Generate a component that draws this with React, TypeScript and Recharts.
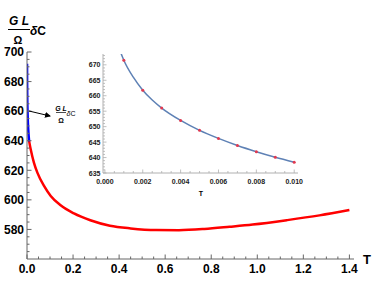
import React from 'react';
import { LineChart, Line, XAxis, YAxis } from 'recharts';

// ---------- data ----------
const blueT = [0.00023, 0.0004, 0.0006, 0.001, 0.002, 0.003, 0.004, 0.006, 0.008, 0.0095];
const blueC = [692, 684.5, 678.7, 671.5, 661.8, 656, 652, 646.2, 641.9, 639.5];

const redT = [0.009, 0.016, 0.03, 0.045, 0.074, 0.103, 0.146, 0.204, 0.275, 0.36, 0.45, 0.56, 0.66, 0.77, 0.88, 0.98, 1.13, 1.27, 1.4];
const redC = [639.9, 634.2, 625.2, 618.4, 609.4, 602.6, 596.3, 590.8, 586.2, 582.5, 580.7, 579.6, 579.5, 580.3, 581.8, 583.3, 586.3, 589.5, 593.1];

const insetLineT = [0.0007, 0.0008, 0.001, 0.0015, 0.002, 0.0025, 0.003, 0.004, 0.005, 0.006, 0.007, 0.008, 0.009, 0.01];
const insetLineC = [676.5, 674.6, 671.5, 666, 661.8, 658.6, 656, 652, 648.8, 646.2, 643.9, 641.9, 640.1, 638.5];

const insetPtT = [0.001, 0.002, 0.003, 0.004, 0.005, 0.006, 0.007, 0.008, 0.009, 0.01];
const insetPtC = [671.5, 661.8, 656, 652, 648.8, 646.2, 643.9, 641.9, 640.1, 638.5];

const mainXMajor = [0, 0.2, 0.4, 0.6, 0.8, 1.0, 1.2, 1.4];
const mainXLabels = ['0.0', '0.2', '0.4', '0.6', '0.8', '1.0', '1.2', '1.4'];
const mainYMajor = [580, 600, 620, 640, 660, 680, 700];
const mainYLabels = ['580', '600', '620', '640', '660', '680', '700'];

const insetXMajor = [0, 0.002, 0.004, 0.006, 0.008, 0.01];
const insetXLabels = ['0.000', '0.002', '0.004', '0.006', '0.008', '0.010'];
const insetYMajor = [635, 640, 645, 650, 655, 660, 665, 670];
const insetYLabels = ['635', '640', '645', '650', '655', '660', '665', '670'];

// ---------- helpers ----------
const range = (a: number, b: number, step: number) => {
  const out: number[] = [];
  const n = Math.round((b - a) / step);
  for (let i = 0; i <= n; i++) out.push(+(a + i * step).toFixed(6));
  return out;
};
const findIdx = (arr: number[], v: number) => arr.findIndex((m) => Math.abs(m - v) < 1e-7);

const mainXTicks = range(0, 1.4, 0.05);
const mainYTicks = range(565, 700, 5);
const insetXTicks = range(0, 0.01, 0.0005);
const insetYTicks = range(635, 673, 1);

const blueData = blueT.map((t, i) => ({ t, c: blueC[i] }));
const redData = redT.map((t, i) => ({ t, c: redC[i] }));
const insetLine = insetLineT.map((t, i) => ({ t, c: insetLineC[i] }));
const insetPts = insetPtT.map((t, i) => ({ t, c: insetPtC[i] }));

const FONT = 'Liberation Sans, Arial, sans-serif';
const AXIS = '#666';

const MainXTick = (p: any) => {
  const { x, y, payload } = p;
  const idx = findIdx(mainXMajor, payload.value);
  const major = idx >= 0;
  return (
    <g>
      <line x1={x} x2={x} y1={y} y2={y - (major ? 4.5 : 2.5)} stroke={AXIS} />
      {major && (
        <text x={x} y={y + 14} textAnchor="middle" fontSize={12} fontWeight="bold" fill="#000" fontFamily={FONT}>
          {mainXLabels[idx]}
        </text>
      )}
    </g>
  );
};

const MainYTick = (p: any) => {
  const { x, y, payload } = p;
  const idx = findIdx(mainYMajor, payload.value);
  const major = idx >= 0;
  return (
    <g>
      <line x1={x} x2={x + (major ? 4.5 : 2.5)} y1={y} y2={y} stroke={AXIS} />
      {major && (
        <text x={x - 3} y={y + 4.3} textAnchor="end" fontSize={12} fontWeight="bold" fill="#000" fontFamily={FONT}>
          {mainYLabels[idx]}
        </text>
      )}
    </g>
  );
};

const ICOL = '#b0b0b0';
const LCOL = '#1a1a1a';
const makeInsetXTick = (dir: number, labels: boolean) => (p: any) => {
  const { x, y, payload } = p;
  const idx = findIdx(insetXMajor, payload.value);
  const major = idx >= 0;
  return (
    <g>
      <line x1={x} x2={x} y1={y} y2={y + dir * (major ? 3.5 : 2)} stroke={ICOL} strokeWidth={0.8} />
      {labels && major && (
        <text x={x} y={y + 11} textAnchor="middle" fontSize={7} fontWeight="bold" fill={LCOL} stroke="none" fontFamily={FONT}>
          {insetXLabels[idx]}
        </text>
      )}
    </g>
  );
};
const makeInsetYTick = (dir: number, labels: boolean) => (p: any) => {
  const { x, y, payload } = p;
  const idx = findIdx(insetYMajor, payload.value);
  const major = idx >= 0;
  return (
    <g>
      <line x1={x} x2={x + dir * (major ? 3.5 : 2)} y1={y} y2={y} stroke={ICOL} strokeWidth={0.8} />
      {labels && major && (
        <text x={x - 2.5} y={y + 2.5} textAnchor="end" fontSize={7} fontWeight="bold" fill={LCOL} stroke="none" fontFamily={FONT}>
          {insetYLabels[idx]}
        </text>
      )}
    </g>
  );
};
const InsetXBottom = makeInsetXTick(-1, true);
const InsetXTop = makeInsetXTick(1, false);
const InsetYLeft = makeInsetYTick(1, true);
const InsetYRight = makeInsetYTick(-1, false);

const RedDot = (p: any) => <circle cx={p.cx} cy={p.cy} r={1.5} fill="#e2394f" />;

export default function App() {
  return (
    <div style={{ position: 'absolute', left: 0, top: 0, width: 382, height: 287, background: '#fff' }}>
      <div style={{ position: 'absolute', left: 0, top: 0 }}>
        <LineChart width={382} height={287} margin={{ top: 52, right: 28, bottom: 0, left: 0 }}>
          <XAxis
            dataKey="t"
            type="number"
            domain={[0, 1.42]}
            ticks={mainXTicks}
            interval={0}
            tickSize={0}
            tickMargin={0}
            tick={<MainXTick />}
            height={28}
            stroke={AXIS}
            allowDataOverflow
          />
          <YAxis
            dataKey="c"
            type="number"
            domain={[560, 700]}
            ticks={mainYTicks}
            interval={0}
            tickSize={0}
            tickMargin={0}
            tick={<MainYTick />}
            width={27}
            stroke={AXIS}
            allowDataOverflow
          />
          <Line data={redData} dataKey="c" type="monotone" stroke="#ff0000" strokeWidth={2.5} dot={false} isAnimationActive={false} />
          <Line data={blueData} dataKey="c" type="monotone" stroke="#0000ff" strokeWidth={2.5} dot={false} isAnimationActive={false} />
        </LineChart>
      </div>
      <div style={{ position: 'absolute', left: 75, top: 45 }}>
        <LineChart width={230} height={150} margin={{ top: 9, right: 7, bottom: 0, left: 0 }}>
          <rect x={103 - 75} y={9} width={195} height={119} fill="#fff" />
          <XAxis
            xAxisId="b"
            dataKey="t"
            type="number"
            domain={[-0.0001, 0.0102]}
            ticks={insetXTicks}
            interval={0}
            tickSize={0}
            tickMargin={0}
            tick={<InsetXBottom />}
            height={22}
            stroke={ICOL}
            allowDataOverflow
          />
          <XAxis
            xAxisId="t"
            orientation="top"
            dataKey="t"
            type="number"
            domain={[-0.0001, 0.0102]}
            ticks={insetXTicks}
            interval={0}
            tickSize={0}
            tickMargin={0}
            tick={<InsetXTop />}
            height={0}
            stroke={ICOL}
            allowDataOverflow
          />
          <YAxis
            yAxisId="l"
            dataKey="c"
            type="number"
            domain={[635, 673.5]}
            ticks={insetYTicks}
            interval={0}
            tickSize={0}
            tickMargin={0}
            tick={<InsetYLeft />}
            width={28}
            stroke={ICOL}
            allowDataOverflow
          />
          <YAxis
            yAxisId="r"
            orientation="right"
            dataKey="c"
            type="number"
            domain={[635, 673.5]}
            ticks={insetYTicks}
            interval={0}
            tickSize={0}
            tickMargin={0}
            tick={<InsetYRight />}
            width={0}
            stroke={ICOL}
            allowDataOverflow
          />
          <Line xAxisId="b" yAxisId="l" data={insetLine} dataKey="c" type="monotone" stroke="#5e81b5" strokeWidth={1.5} dot={false} isAnimationActive={false} />
          <Line xAxisId="t" yAxisId="r" data={insetPts} dataKey="c" stroke="none" dot={<RedDot />} isAnimationActive={false} />
        </LineChart>
      </div>
      <svg width={382} height={287} style={{ position: 'absolute', left: 0, top: 0, pointerEvents: 'none' }}>
        <defs>
          <marker id="ah" markerWidth="6" markerHeight="6" refX="5" refY="3" orient="auto" markerUnits="userSpaceOnUse">
            <path d="M0,0 L6,3 L0,6 z" fill="#000" />
          </marker>
        </defs>
        {/* main y label */}
        <text x={19} y={25} textAnchor="middle" fontSize={12} fontWeight="bold" fontStyle="italic" fontFamily={FONT}>G L</text>
        <line x1={8} x2={30} y1={29.5} y2={29.5} stroke="#000" strokeWidth={1} />
        <text x={18} y={43.5} textAnchor="middle" fontSize={11} fontWeight="bold" fontFamily={FONT}>Ω</text>
        <text x={30} y={35} fontSize={12} fontWeight="bold" fontFamily={FONT}><tspan fontStyle="italic">δ</tspan>C</text>
        {/* main x label */}
        <text x={363} y={264} fontSize={13} fontWeight="bold" fontFamily={FONT}>T</text>
        {/* inset x label */}
        <text x={201} y={196} textAnchor="middle" fontSize={7} fontWeight="bold" fontFamily={FONT}>T</text>
        {/* arrow */}
        <line x1={29} y1={111} x2={50} y2={116} stroke="#000" strokeWidth={1} markerEnd="url(#ah)" />
        <text x={61} y={110.5} textAnchor="middle" fontSize={7} fontWeight="bold" fontStyle="italic" fontFamily={FONT}>G L</text>
        <line x1={56} x2={66} y1={112.5} y2={112.5} stroke="#000" strokeWidth={0.7} />
        <text x={61} y={122.5} textAnchor="middle" fontSize={7} fontWeight="bold" fontFamily={FONT}>Ω</text>
        <text x={66.5} y={116} fontSize={7} fontFamily={FONT}><tspan fontStyle="italic">δ</tspan>C</text>
      </svg>
    </div>
  );
}
